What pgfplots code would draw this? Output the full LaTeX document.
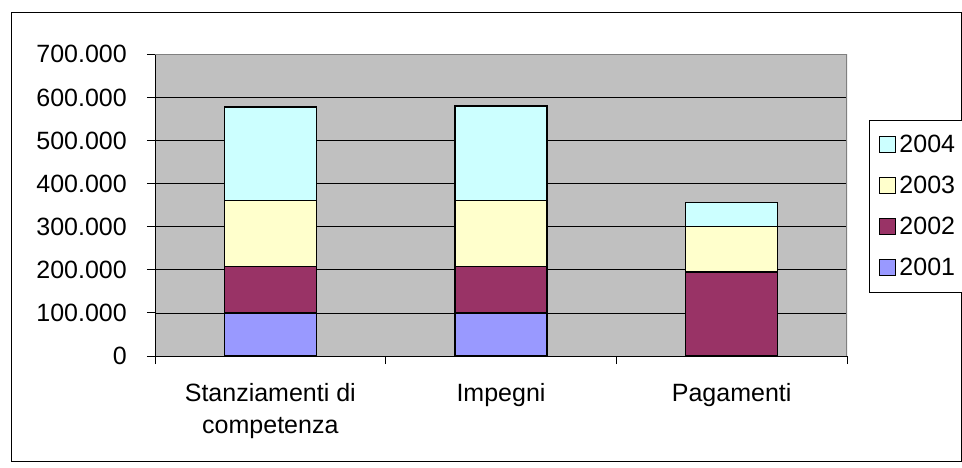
\documentclass[border=0pt]{standalone}
\usepackage{fontspec}
\setmainfont{Liberation Sans}
\usepackage{pgfplots}
\pgfplotsset{compat=1.18}
\definecolor{c01}{HTML}{9999FF}
\definecolor{c02}{HTML}{993366}
\definecolor{c03}{HTML}{FFFFCC}
\definecolor{c04}{HTML}{CCFFFF}
\definecolor{plotgray}{HTML}{C0C0C0}
\definecolor{edgegray}{HTML}{808080}
\newcommand{\lbl}{\fontsize{25}{32}\selectfont}

\begin{document}
\begin{tikzpicture}[x=1pt,y=1pt]
\useasboundingbox[fill=white] (0,0) rectangle (962,467);
\clip (0,0) rectangle (962,467);
\draw[line width=1pt] (11.5,6) rectangle (961,454.5);
\begin{axis}[
  at={(155pt,111pt)}, anchor=south west,
  scale only axis, width=692pt, height=301.7pt,
  xmin=-0.5, xmax=2.5, ymin=0, ymax=700,
  ybar stacked, bar width=92pt,
  axis x line*=bottom, axis y line*=left,
  axis line style={-, black, line width=1pt},
  xtick={0,1,2},
  xticklabels={{Stanziamenti di\\competenza},Impegni,Pagamenti},
  major x tick style={draw=none},
  minor xtick={-0.5,0.5,1.5,2.5},
  ytick={0,100,200,300,400,500,600,700},
  yticklabels={0,100.000,200.000,300.000,400.000,500.000,600.000,700.000},
  tick align=outside, major tick length=8pt, minor tick length=8pt,
  tick style={black, line width=1pt},
  ymajorgrids, grid style={black, line width=0.8pt},
  axis background/.style={fill=plotgray},
  ticklabel style={font=\lbl, inner sep=0pt},
  yticklabel style={anchor=east, xshift=-20pt},
  xticklabel style={align=center, anchor=north, yshift=-19pt},
  reverse legend,
  legend cell align=left,
  legend image code/.code={\draw[#1, line width=1pt, draw=black] (0pt,-8pt) rectangle (16pt,8pt);},
  legend style={at={(1.0322,0.7822)}, anchor=north west, draw=black,
    line width=1pt, fill=white, font=\lbl, inner xsep=9.7pt, inner ysep=7pt,
    row sep=6pt, column sep=0pt, nodes={inner xsep=3pt, inner ysep=8pt}},
]
\addplot[fill=c01, draw=black, line width=1.3pt] coordinates {(0,100) (1,100) (2,0)};
\addplot[fill=c02, draw=black, line width=1.3pt] coordinates {(0,107) (1,107) (2,195)};
\addplot[fill=c03, draw=black, line width=1.3pt] coordinates {(0,153) (1,153) (2,105)};
\addplot[fill=c04, draw=black, line width=1.3pt] coordinates {(0,218) (1,220) (2,56)};
\legend{2001,2002,2003,2004}
\draw[edgegray, line width=1.2pt] (rel axis cs:0,1) -- (rel axis cs:1,1) -- (rel axis cs:1,0);
\end{axis}
\end{tikzpicture}
\end{document}
